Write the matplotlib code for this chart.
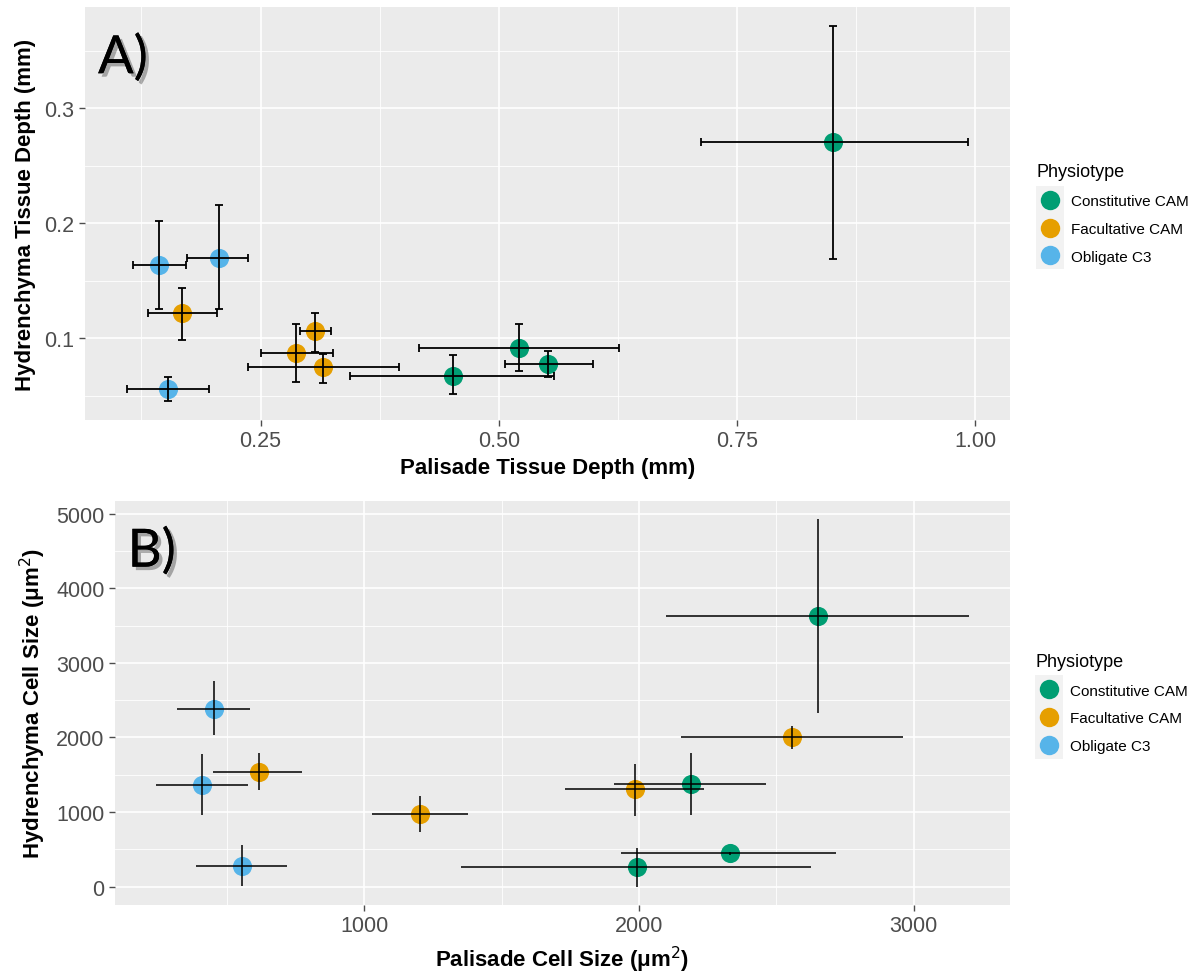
import numpy as np
import matplotlib
matplotlib.use("Agg")
import matplotlib.pyplot as plt
import matplotlib.patheffects as pe
from matplotlib.lines import Line2D

plt.rcParams["font.family"] = ["Liberation Sans", "DejaVu Sans"]

groups = ["Obligate C3"] * 3 + ["Facultative CAM"] * 4 + ["Constitutive CAM"] * 4
legend_order = ["Constitutive CAM", "Facultative CAM", "Obligate C3"]
colors = {"Constitutive CAM": "#009E73", "Facultative CAM": "#E69F00", "Obligate C3": "#56B4E9"}

# panel A: tissue depth (mm)
pal_depth = [0.144, 0.206, 0.153, 0.168, 0.287, 0.307, 0.316, 0.452, 0.521, 0.552, 0.851]
pal_depth_lo = [0.116, 0.173, 0.110, 0.132, 0.250, 0.291, 0.237, 0.344, 0.416, 0.506, 0.712]
pal_depth_hi = [0.172, 0.237, 0.196, 0.204, 0.326, 0.324, 0.395, 0.558, 0.626, 0.599, 0.992]
hyd_depth = [0.164, 0.170, 0.0555, 0.1215, 0.087, 0.106, 0.0744, 0.0674, 0.0913, 0.0773, 0.271]
hyd_depth_lo = [0.125, 0.125, 0.045, 0.098, 0.062, 0.088, 0.061, 0.051, 0.071, 0.066, 0.169]
hyd_depth_hi = [0.202, 0.216, 0.066, 0.144, 0.112, 0.122, 0.086, 0.085, 0.112, 0.089, 0.372]

# panel B: cell size (um^2)
pal_cell = [454, 408, 554, 617, 1203, 1987, 2558, 2190, 1992, 2330, 2652]
pal_cell_lo = [318, 241, 389, 451, 1029, 1731, 2152, 1910, 1351, 1935, 2099]
pal_cell_hi = [586, 577, 719, 772, 1376, 2238, 2961, 2462, 2627, 2718, 3202]
hyd_cell = [2386, 1358, 280, 1540, 971, 1305, 2004, 1376, 267, 450, 3629]
hyd_cell_lo = [2039, 962, 9, 1291, 739, 948, 1839, 957, 0, 430, 2329]
hyd_cell_hi = [2752, 1772, 561, 1790, 1211, 1647, 2155, 1790, 516, 470, 4924]

xticks_a = [0.25, 0.50, 0.75, 1.00]
yticks_a = [0.1, 0.2, 0.3]
xticks_b = [1000, 2000, 3000]
yticks_b = [0, 1000, 2000, 3000, 4000, 5000]


def gg_axes(ax, xt, yt, xminor, yminor, xfmt, yfmt):
    ax.set_facecolor("#EBEBEB")
    for s in ax.spines.values():
        s.set_visible(False)
    ax.set_xticks(xt)
    ax.set_xticklabels([xfmt(v) for v in xt])
    ax.set_yticks(yt)
    ax.set_yticklabels([yfmt(v) for v in yt])
    ax.set_xticks(xminor, minor=True)
    ax.set_yticks(yminor, minor=True)
    ax.grid(True, which="major", color="white", linewidth=1.2)
    ax.grid(True, which="minor", color="white", linewidth=0.6)
    ax.set_axisbelow(True)
    ax.tick_params(which="major", colors="#4D4D4D", labelsize=15.5, length=4, width=1)
    ax.tick_params(which="minor", length=0)


def draw(ax, x, xlo, xhi, y, ylo, yhi, capsize, lw):
    x = np.array(x)
    y = np.array(y)
    g = np.array(groups)
    for name in legend_order:
        m = g == name
        ax.scatter(x[m], y[m], s=190, color=colors[name], zorder=3, linewidths=0)
    xerr = [x - np.array(xlo), np.array(xhi) - x]
    yerr = [y - np.array(ylo), np.array(yhi) - y]
    ax.errorbar(x, y, xerr=xerr, yerr=yerr, fmt="none", ecolor="black",
                elinewidth=lw, capsize=capsize, capthick=lw, zorder=4)
    ax.margins(0.05)


def add_legend(ax):
    handles = []
    for n in legend_order:
        bg = Line2D([], [], marker="s", linestyle="none", markersize=20,
                    markerfacecolor="#F2F2F2", markeredgewidth=0)
        dot = Line2D([], [], marker="o", linestyle="none", markersize=14,
                     markerfacecolor=colors[n], markeredgewidth=0)
        handles.append((bg, dot))
    leg = ax.legend(handles, legend_order, title="Physiotype", loc="center left",
                    bbox_to_anchor=(1.022, 0.5), frameon=False, fontsize=11,
                    title_fontsize=13, handlelength=1.8,
                    handletextpad=0.45, labelspacing=0.9, borderaxespad=0)
    leg._legend_box.align = "left"


def panel_tag(ax, txt):
    ax.text(0.014, 0.935, txt, transform=ax.transAxes, ha="left", va="top",
            fontsize=38, family="Lato",
            path_effects=[pe.withSimplePatchShadow(offset=(2.5, -2.5), shadow_rgbFace="black", alpha=0.3),
                          pe.Normal()])


fig = plt.figure(figsize=(12.01, 9.78), dpi=100)
ax1 = fig.add_axes([0.0708, 0.5695, 0.770, 0.4223])
ax2 = fig.add_axes([0.0958, 0.0736, 0.745, 0.4131])

draw(ax1, pal_depth, pal_depth_lo, pal_depth_hi, hyd_depth, hyd_depth_lo, hyd_depth_hi, 3, 1.3)
gg_axes(ax1, xticks_a, yticks_a, [0.125, 0.375, 0.625, 0.875], [0.05, 0.15, 0.25, 0.35],
        lambda v: f"{v:.2f}", lambda v: f"{v:.1f}")
ax1.set_xlabel("Palisade Tissue Depth (mm)", fontsize=16, fontweight="bold", labelpad=4)
ax1.set_ylabel("Hydrenchyma Tissue Depth (mm)", fontsize=16, fontweight="bold", labelpad=6)
add_legend(ax1)
panel_tag(ax1, "A)")

draw(ax2, pal_cell, pal_cell_lo, pal_cell_hi, hyd_cell, hyd_cell_lo, hyd_cell_hi, 0, 1.1)
gg_axes(ax2, xticks_b, yticks_b, [500, 1500, 2500], [500, 1500, 2500, 3500, 4500],
        lambda v: f"{v:d}", lambda v: f"{v:d}")
ax2.set_xlabel("Palisade Cell Size (\u03bcm$^{2}$)", fontsize=16, fontweight="bold", labelpad=5)
ax2.set_ylabel("Hydrenchyma Cell Size (\u03bcm$^{2}$)", fontsize=16, fontweight="bold", labelpad=6)
add_legend(ax2)
panel_tag(ax2, "B)")

fig.savefig("out.png", dpi=100)
